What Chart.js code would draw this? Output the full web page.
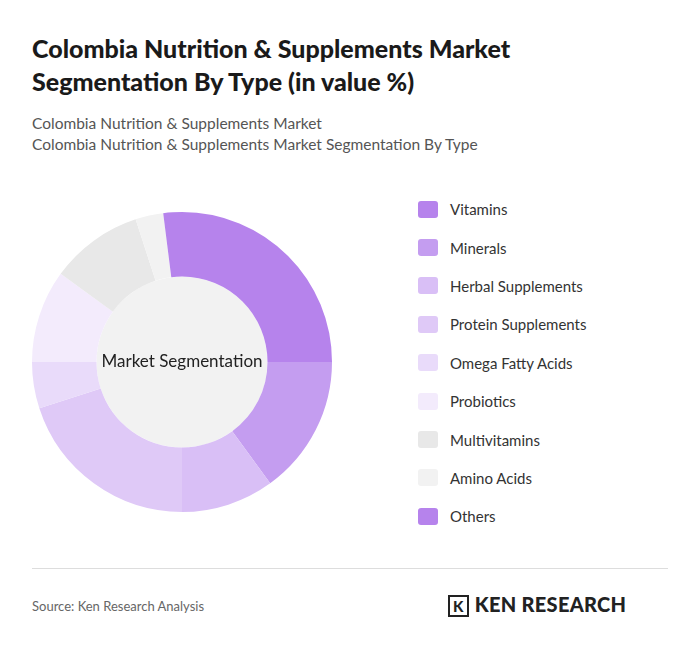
<!DOCTYPE html>
<html>
<head>
<meta charset="utf-8">
<script src="https://cdn.jsdelivr.net/npm/chart.js@4"></script>
<style>
  body { margin:0; width:700px; height:653px; background:#fff; font-family:Lato, "Noto Sans", sans-serif; position:relative; overflow:hidden }
  h1 { position:absolute; left:32px; top:32px; margin:0; font-size:25px; line-height:33px; font-weight:900; color:#1a1a1a; width:620px }
  .sub { position:absolute; left:32px; top:113px; font-size:15.5px; line-height:21px; color:#555 }
  #wrap { position:absolute; left:32px; top:212px; width:300px; height:300px }
  #legend { position:absolute; left:418px; top:190px }
  .li { display:flex; align-items:center; height:38.4px; font-size:15px; color:#333 }
  .sw { width:20px; height:17px; border-radius:3px; margin-right:12px }
  .rule { position:absolute; left:32px; right:32px; top:568px; border-top:1px solid #ddd }
  .src { position:absolute; left:32px; top:598px; font-size:13px; color:#666 }
  .logo { position:absolute; left:448px; top:592px; font-size:20px; font-weight:900; color:#222; letter-spacing:0.3px }
  .logo b { display:inline-block; border:2px solid #222; padding:0 3px; margin-right:6px; font-size:15px }
</style>
</head>
<body>
<h1>Colombia Nutrition &amp; Supplements Market Segmentation By Type (in value %)</h1>
<div class="sub">Colombia Nutrition &amp; Supplements Market<br>Colombia Nutrition &amp; Supplements Market Segmentation By Type</div>
<div id="wrap"><canvas id="c"></canvas></div>
<div id="legend"></div>
<div class="rule"></div>
<div class="src">Source: Ken Research Analysis</div>
<div class="logo"><b>K</b>KEN RESEARCH</div>
<script>
const categories = ['Vitamins', 'Minerals', 'Herbal Supplements', 'Protein Supplements', 'Omega Fatty Acids', 'Probiotics', 'Multivitamins', 'Amino Acids', 'Others']
const values = [25, 15, 10, 20, 5, 10, 10, 3, 2]
const colors = ['#b683ec', '#c49df0', '#d9bff6', '#dfc9f7', '#e9dbfa', '#f3ebfc', '#e8e8e8', '#f2f2f2', '#b683ec']

document.getElementById('legend').innerHTML = categories.map((c, i) =>
  `<div class="li"><span class="sw" style="background:${colors[i]}"></span>${c}</div>`).join('')

const centerLabel = {
  id: 'centerLabel',
  beforeDatasetsDraw(chart) {
    const m = chart.getDatasetMeta(0).data[0]
    const ctx = chart.ctx
    ctx.save()
    ctx.beginPath()
    ctx.arc(m.x, m.y, m.innerRadius, 0, Math.PI * 2)
    ctx.fillStyle = '#f2f2f2'
    ctx.fill()
    ctx.restore()
  },
  afterDatasetsDraw(chart) {
    const m = chart.getDatasetMeta(0).data[0]
    const ctx = chart.ctx
    ctx.save()
    ctx.font = '17px Lato, sans-serif'
    ctx.fillStyle = '#222'
    ctx.textAlign = 'center'
    ctx.textBaseline = 'middle'
    ctx.fillText('Market Segmentation', m.x, m.y)
    ctx.restore()
  }
}

new Chart(document.getElementById('c'), {
  type: 'doughnut',
  data: { labels: categories, datasets: [{ data: values, backgroundColor: colors, borderWidth: 0 }] },
  options: {
    responsive: true, maintainAspectRatio: false, animation: false,
    cutout: '57%',
    plugins: { legend: { display: false }, tooltip: { enabled: false } }
  },
  plugins: [centerLabel]
})
</script>
</body>
</html>
